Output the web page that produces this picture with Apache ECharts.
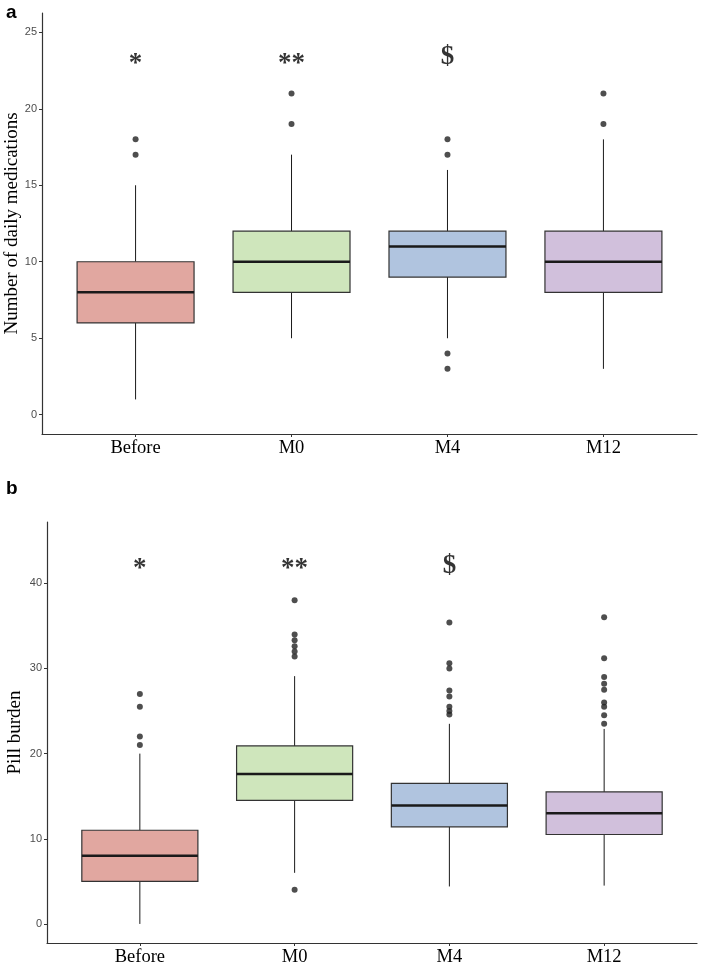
<!DOCTYPE html>
<html><head><meta charset="utf-8">
<script src="https://cdn.jsdelivr.net/npm/echarts@6/dist/echarts.min.js"></script>
<style>html,body{margin:0;padding:0;background:#fff}#c{width:705px;height:965px}</style>
</head><body><div id="c"></div>
<script>
const categories = ['Before', 'M0', 'M4', 'M12'];
const boxColors = ['#E1A7A0', '#CFE6BC', '#B0C4DF', '#D1C0DC'];
// Panel a: number of daily medications [min, Q1, median, Q3, max]
const medsBox = [[1, 6, 8, 10, 15], [5, 8, 10, 12, 17], [5, 9, 11, 12, 16], [3, 8, 10, 12, 18]];
const medsOutliers = [[17, 18], [19, 21], [17, 18, 4, 3], [19, 21]];
const medsMarks = ['*', '**', '$'];
const medsMarkY = [22.9, 22.9, 23.4];
const medsTicks = [0, 5, 10, 15, 20, 25];
// Panel b: pill burden
const pillBox = [[0, 5, 8, 11, 20], [6, 14.5, 17.6, 20.9, 29.1], [4.4, 11.4, 13.9, 16.5, 23.5], [4.5, 10.5, 13, 15.5, 22.9]];
const pillOutliers = [[21, 22, 25.5, 27], [4, 31.4, 32, 32.6, 33.3, 34, 38], [24.6, 25, 25.5, 26.7, 27.4, 30, 30.6, 35.4], [23.5, 24.5, 25.5, 26, 27.5, 28.2, 29, 31.2, 36]];
const pillMarks = ['*', '**', '$'];
const pillMarkY = [41.7, 41.7, 42.0];
const pillTicks = [0, 10, 20, 30, 40];

const serif = '"Liberation Serif", "DejaVu Serif", serif';
const sans = '"Liberation Sans", Arial, sans-serif';

function renderBox(params, api) {
  const x = api.value(0);
  const lo = api.coord([x, api.value(1)]);
  const q1 = api.coord([x, api.value(2)]);
  const md = api.coord([x, api.value(3)]);
  const q3 = api.coord([x, api.value(4)]);
  const hi = api.coord([x, api.value(5)]);
  const w = api.size([0.75, 0])[0];
  const cx = lo[0];
  const color = boxColors[params.dataIndex];
  return {
    type: 'group', children: [
      { type: 'line', shape: { x1: cx, y1: hi[1], x2: cx, y2: q3[1] }, style: { stroke: '#1a1a1a', lineWidth: 1 } },
      { type: 'line', shape: { x1: cx, y1: q1[1], x2: cx, y2: lo[1] }, style: { stroke: '#1a1a1a', lineWidth: 1 } },
      { type: 'rect', shape: { x: cx - w / 2, y: q3[1], width: w, height: q1[1] - q3[1] }, style: { fill: color, stroke: '#333', lineWidth: 1.2 } },
      { type: 'line', shape: { x1: cx - w / 2, y1: md[1], x2: cx + w / 2, y2: md[1] }, style: { stroke: '#1a1a1a', lineWidth: 2.5 } }
    ]
  };
}

function xAxisDef(gridIndex) {
  return {
    type: 'value', gridIndex, min: 0.4, max: 4.6,
    splitLine: { show: false },
    axisLine: { show: true, onZero: false, lineStyle: { color: '#333', width: 1.2 } },
    axisTick: { show: true, length: 3, lineStyle: { color: '#333' }, customValues: [1, 2, 3, 4] },
    axisLabel: { customValues: [1, 2, 3, 4], formatter: v => categories[Math.round(v) - 1], color: '#000', fontFamily: serif, fontSize: 18.5, margin: 5 }
  };
}
function yAxisDef(gridIndex, min, max, ticks, name, gap) {
  return {
    type: 'value', gridIndex, min, max, name, nameLocation: 'middle', nameGap: gap, nameMoveOverlap: false,
    nameTextStyle: { fontFamily: serif, fontSize: 19, color: '#000' },
    splitLine: { show: false },
    axisLine: { show: true, onZero: false, lineStyle: { color: '#333', width: 1.2 } },
    axisTick: { show: true, length: 3, lineStyle: { color: '#333' }, customValues: ticks },
    axisLabel: { customValues: ticks, color: '#4d4d4d', fontFamily: sans, fontSize: 11, margin: 5 }
  };
}
function outlierData(arr) {
  const out = [];
  arr.forEach((vals, i) => vals.forEach(v => out.push([i + 1, v])));
  return out;
}
function markData(marks, ys) {
  return marks.map((m, i) => ({ value: [i + 1, ys[i]], label: { formatter: m } }));
}

const chart = echarts.init(document.getElementById('c'), null, { renderer: 'canvas' });
chart.setOption({
  animation: false,
  backgroundColor: '#fff',
  title: [
    { text: 'a', left: 1, top: -2, textStyle: { fontFamily: sans, fontWeight: 'bold', fontSize: 19, color: '#000' } },
    { text: 'b', left: 1, top: 474, textStyle: { fontFamily: sans, fontWeight: 'bold', fontSize: 19, color: '#000' } }
  ],
  grid: [
    { left: 42, right: 8, top: 13, height: 421, containLabel: false, outerBoundsMode: 'none' },
    { left: 47, right: 8, top: 522, height: 421, containLabel: false, outerBoundsMode: 'none' }
  ],
  xAxis: [xAxisDef(0), xAxisDef(1)],
  yAxis: [
    yAxisDef(0, -1.26, 26.26, medsTicks, 'Number of daily medications', 20),
    yAxisDef(1, -2.24, 47.2, pillTicks, 'Pill burden', 22)
  ],
  series: [
    { type: 'custom', xAxisIndex: 0, yAxisIndex: 0, renderItem: renderBox, encode: { x: 0, y: [1, 2, 3, 4, 5] }, data: medsBox.map((b, i) => [i + 1, ...b]) },
    { type: 'scatter', xAxisIndex: 0, yAxisIndex: 0, symbolSize: 6, itemStyle: { color: '#222' }, data: outlierData(medsOutliers) },
    { type: 'scatter', xAxisIndex: 0, yAxisIndex: 0, symbolSize: 0, label: { show: true, position: 'inside', color: '#000', fontFamily: serif, fontWeight: 'bold', fontSize: 27 }, data: markData(medsMarks, medsMarkY) },
    { type: 'custom', xAxisIndex: 1, yAxisIndex: 1, renderItem: renderBox, encode: { x: 0, y: [1, 2, 3, 4, 5] }, data: pillBox.map((b, i) => [i + 1, ...b]) },
    { type: 'scatter', xAxisIndex: 1, yAxisIndex: 1, symbolSize: 6, itemStyle: { color: '#222' }, data: outlierData(pillOutliers) },
    { type: 'scatter', xAxisIndex: 1, yAxisIndex: 1, symbolSize: 0, label: { show: true, position: 'inside', color: '#000', fontFamily: serif, fontWeight: 'bold', fontSize: 27 }, data: markData(pillMarks, pillMarkY) }
  ]
});
</script></body></html>
